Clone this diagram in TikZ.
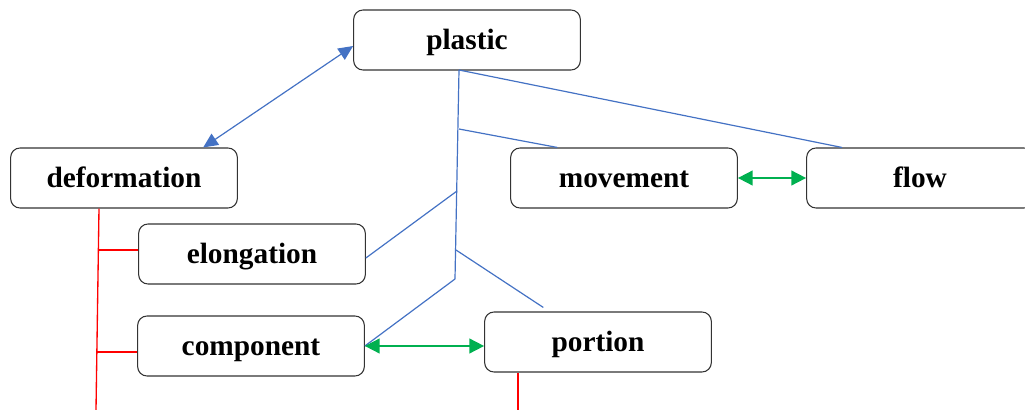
\documentclass[tikz,border=0pt]{standalone}
\usepackage{fontspec}
\setmainfont{Liberation Serif}
\usetikzlibrary{positioning, calc, arrows.meta}
\definecolor{linkblue}{HTML}{4472C4}
\definecolor{linkgreen}{HTML}{00B050}
\definecolor{linkred}{HTML}{FF0000}
\tikzstyle{word} = [rectangle, rounded corners=7pt, minimum width=170pt, minimum height=45pt, text height=17pt, text depth=3pt, text centered, draw=black!80, line width=0.8pt, font=\fontsize{22}{26}\selectfont\bfseries]
\tikzstyle{bluelink} = [draw=linkblue, line width=0.9pt]
\tikzstyle{bluearrow} = [bluelink, {Triangle[length=11pt,width=10pt]}-{Triangle[length=11pt,width=10pt]}]
\tikzstyle{greenarrow} = [draw=linkgreen, line width=1.3pt, {Triangle[length=11pt,width=11pt]}-{Triangle[length=11pt,width=11pt]}]
\tikzstyle{redlink} = [draw=linkred, line width=1pt]

\begin{document}
\begin{tikzpicture}[x=0.75pt, y=-0.75pt, node distance=103.5pt]
    \useasboundingbox (0,0) rectangle (1025,410);
    %boxes
    \node (plastic) [word] at (467,40) {plastic};
    \node (deformation) [word, below of = plastic, xshift = -257.25pt] {deformation};
    \node (movement) [word, below of = plastic, xshift = 117.75pt] {movement};
    \node (flow) [word, right of = movement, node distance = 222pt] {flow};
    \node (elongation) [word, below of = deformation, node distance = 57pt, xshift = 96pt] {elongation};
    \node (component) [word, below of = elongation, node distance = 69pt, xshift = -0.75pt] {component};
    \node (portion) [word, right of = component, node distance = 260.25pt, yshift = 3pt] {portion};

    %trunk points
    \coordinate (top) at (459,70);
    \coordinate (knee1) at (459,129);
    \coordinate (knee2) at (457,191);
    \coordinate (knee3) at (456,250);
    \coordinate (foot) at (455,279);
    \coordinate (redfoot) at (96,410);
    \coordinate (redfoot2) at (518,410);

    %links
    \draw [bluearrow] ([yshift=-4.5pt]plastic.west) -- ([xshift=-26pt]deformation.north east);
    \draw [bluelink] (top) -- (foot);
    \draw [bluelink] (top) -- ([xshift=-58.5pt]flow.north);
    \draw [bluelink] (knee1) -- ([xshift=-50pt]movement.north);
    \draw [bluelink] (knee2) -- ([yshift=-3pt]elongation.east);
    \draw [bluelink] (knee3) -- ([xshift=-41pt, yshift=3pt]portion.north);
    \draw [bluelink] (foot) -- (component.east);
    \draw [greenarrow] (movement) -- (flow);
    \draw [greenarrow] (component.east) -- (component.east -| portion.west);
    \draw [redlink] ([xshift=-18.75pt]deformation.south) -- (redfoot);
    \draw [redlink] ([yshift=3pt]elongation.west) -- ([yshift=3pt, xshift=1.5pt]elongation.west -| redfoot);
    \draw [redlink] ([yshift=-4.5pt]component.west) -- ([yshift=-4.5pt, xshift=0.75pt]component.west -| redfoot);
    \draw [redlink] ([xshift=-60pt]portion.south) -- (redfoot2);
\end{tikzpicture}
\end{document}
